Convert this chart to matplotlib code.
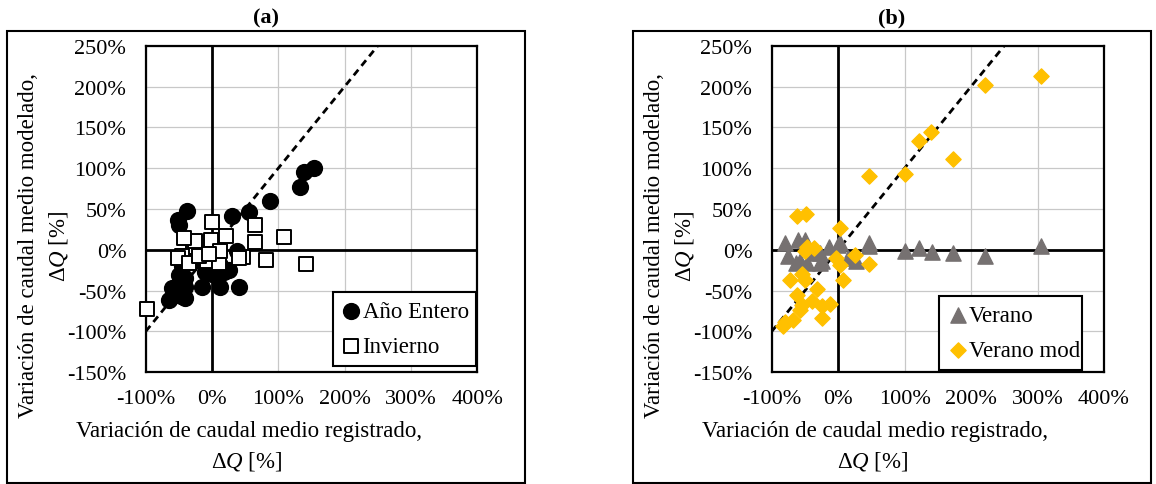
import matplotlib
matplotlib.use("Agg")
import matplotlib.pyplot as plt
from matplotlib.patches import Rectangle
from matplotlib.ticker import FuncFormatter

plt.rcParams["font.family"] = ["Liberation Serif", "DejaVu Serif"]
plt.rcParams["mathtext.fontset"] = "custom"
plt.rcParams["mathtext.rm"] = "Liberation Serif"
plt.rcParams["mathtext.it"] = "Liberation Serif:italic"

# panel (a): registered vs modelled variation [%]
anio_x = [154, 139, 133, 87, 56, 30, -38, -52, -50, 37, 12, 18, -10, -15, 12, 40,
          -50, -40, -60, -40, -65, -40, -47, -30, -45, 0, 25]
anio_y = [100, 95, 77, 60, 46, 41, 47, 37, 30, -2, -18, -27, -27, -45, -45, -46,
          -31, -35, -47, -45, -62, -59, -57, -15, -20, -30, -25]
invierno_x = [-98, 0, 21, 65, 65, 108, 142, -2, -28, -25, -42, -45, -52, -35, -8,
              10, 12, 47, 40, 82, -20, -5]
invierno_y = [-72, 34, 17, 31, 9, 16, -17, 12, 4, 11, 14, -8, -10, -16, -14,
              -16, -2, -9, -10, -12, -8, -5]

# panel (b)
verano_x = [305, 221, 173, 141, 122, 100, 46, 47, 0, 3, -14, -28, -28, -80, -60,
            -50, -75, -57, -25, -37, 27, 15, -64, -47]
verano_y = [5, -7, -4, -3, 2, -2, 8, 5, 6, 8, 3, -16, -4, 8, 12, 12, -8, -14,
            -14, -4, -14, -10, -16, -16]
vmod_x = [305, 221, 140, 122, 173, 100, 46, 3, 26, 46, -3, 3, 7, -62, -49, -47,
          -37, -50, -55, -72, -50, -32, -62, -55, -40, -12, -25, -25, -68, -80,
          -83, -57]
vmod_y = [213, 202, 144, 133, 111, 93, 91, 27, -6, -17, -10, -18, -37, 42, 44, 4,
          2, -2, -29, -37, -37, -48, -55, -68, -63, -66, -69, -83, -86, -89,
          -93, -74]

x_ticks = [-100, 0, 100, 200, 300, 400]
y_ticks = [-150, -100, -50, 0, 50, 100, 150, 200, 250]
one_to_one = [-100, 250]

FS = 16
LAB_FS = 16.5

fig = plt.figure(figsize=(11.56, 4.85), dpi=100)
W, H = 1156, 485


def px_axes(left, top, right, bottom):
    return fig.add_axes([left / W, (H - bottom) / H, (right - left) / W, (bottom - top) / H])


def style_axes(ax):
    ax.set_xlim(-100, 400)
    ax.set_ylim(-150, 250)
    ax.set_xticks(x_ticks)
    ax.set_yticks(y_ticks)
    pct = FuncFormatter(lambda v, p: f"{v:.0f}%")
    ax.xaxis.set_major_formatter(pct)
    ax.yaxis.set_major_formatter(pct)
    ax.tick_params(length=0, labelsize=FS)
    ax.tick_params(axis="y", pad=14)
    ax.tick_params(axis="x", pad=12)
    ax.grid(True, color="#c8c8c8", lw=0.9, zorder=0)
    ax.set_axisbelow(True)
    for s in ax.spines.values():
        s.set_linewidth(1.6)
        s.set_color("black")
    ax.axhline(0, color="black", lw=2.0, zorder=1)
    ax.axvline(0, color="black", lw=2.0, zorder=1)
    ax.plot(one_to_one, one_to_one, color="black", lw=2.0, ls=(0, (2.6, 1.8)), zorder=2)


def frame_and_labels(dx, title):
    fig.patches.append(Rectangle((7.3 / W + dx / W, 1.5 / H), 517.7 / W, (484 - 32.7) / H,
                                 transform=fig.transFigure, fill=False, lw=1.5,
                                 edgecolor="black"))
    fig.text((266 + dx) / W, 1 - 18 / H, title, ha="center", va="center",
             fontsize=16, fontweight="bold")
    fig.text((29 + dx) / W, 1 - 245 / H, "Variación de caudal medio modelado,",
             rotation=90, ha="center", va="center", fontsize=LAB_FS)
    fig.text((58 + dx) / W, 1 - 246 / H, r"$\Delta Q$ [%]",
             rotation=90, ha="center", va="center", fontsize=LAB_FS)
    fig.text((249 + dx) / W, 1 - 432 / H, "Variación de caudal medio registrado,",
             ha="center", va="center", fontsize=LAB_FS)
    fig.text((247 + dx) / W, 1 - 462 / H, r"$\Delta Q$ [%]",
             ha="center", va="center", fontsize=LAB_FS)


def add_legend(ax, bbox):
    leg = ax.legend(loc="lower left", bbox_to_anchor=bbox, mode="expand",
                    fontsize=LAB_FS, frameon=True, fancybox=False, framealpha=1,
                    handletextpad=0.1, handlelength=0.8, labelspacing=0.6,
                    borderpad=0.4, borderaxespad=0)
    leg.get_frame().set_edgecolor("black")
    leg.get_frame().set_linewidth(1.5)
    leg.set_zorder(10)


# panel (a)
ax_a = px_axes(145.7, 46.7, 477.3, 373.3)
style_axes(ax_a)
ax_a.scatter(anio_x, anio_y, s=130, marker="o", color="black", zorder=3,
             label="Año Entero", clip_on=False)
ax_a.scatter(invierno_x, invierno_y, s=110, marker="s", facecolor="white",
             edgecolor="black", linewidth=1.4, zorder=4, label="Invierno", clip_on=False)
add_legend(ax_a, (0.564, 0.02, 0.431, 0.24))
frame_and_labels(0, "(a)")

# panel (b)
ax_b = px_axes(771.7, 46.7, 1104, 373.3)
style_axes(ax_b)
ax_b.scatter(verano_x, verano_y, s=120, marker="^", color="#767171", zorder=3,
             label="Verano", clip_on=False)
ax_b.scatter(vmod_x, vmod_y, s=60, marker="D", color="#FFC000", zorder=4,
             label="Verano mod", clip_on=False)
add_legend(ax_b, (0.504, 0.006, 0.43, 0.24))
frame_and_labels(626, "(b)")

fig.savefig("out.png", dpi=100)
